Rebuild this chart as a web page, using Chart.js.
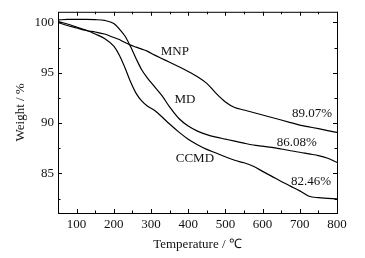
<!DOCTYPE html>
<html>
<head>
<meta charset="utf-8">
<script src="https://cdn.jsdelivr.net/npm/chart.js@4/dist/chart.umd.min.js"></script>
<style>
  html, body { margin: 0; padding: 0; background: #fff; }
  #wrap { width: 365px; height: 258px; }
</style>
</head>
<body>
<div id="wrap"><canvas id="tgaChart" width="365" height="258"></canvas></div>
<script>
// Data
const temps = [50, 75, 100, 125, 150, 175, 200, 215, 230, 245, 260, 275, 290, 310, 330, 350, 375,
  400, 425, 450, 475, 500, 525, 550, 575, 600, 625, 650, 675, 700, 725, 750, 775, 800];
const mnp = [100.0, 99.7, 99.45, 99.2, 99.05, 98.85, 98.5, 98.3, 98.0, 97.75, 97.55, 97.35, 97.15,
  96.75, 96.4, 96.05, 95.6, 95.13, 94.6, 93.95, 92.95, 92.1, 91.55, 91.3, 91.05, 90.8, 90.55, 90.3,
  90.05, 89.8, 89.62, 89.44, 89.25, 89.07];
const md = [100.25, 100.3, 100.3, 100.3, 100.28, 100.2, 99.9, 99.35, 98.65, 97.6, 96.4, 95.3, 94.5,
  93.6, 92.7, 91.6, 90.45, 89.7, 89.2, 88.85, 88.6, 88.4, 88.2, 88.0, 87.82, 87.7, 87.58, 87.42,
  87.25, 87.1, 86.93, 86.77, 86.5, 86.08];
const ccmd = [100.1, 99.85, 99.55, 99.25, 98.85, 98.4, 97.65, 96.75, 95.5, 94.1, 92.95, 92.2, 91.7,
  91.25, 90.6, 89.9, 89.1, 88.4, 87.85, 87.38, 87.02, 86.65, 86.3, 86.05, 85.7, 85.2, 84.7, 84.2,
  83.73, 83.26, 82.72, 82.58, 82.52, 82.46];

const xTicks = [100, 200, 300, 400, 500, 600, 700, 800];
const xMinor = [150, 250, 350, 450, 550, 650, 750];
const yTicks = [85, 90, 95, 100];
const yMinor = [82.5, 87.5, 92.5, 97.5];

// Text labels placed in data units
const notes = [
  { text: 'MNP', x: 364, y: 97.1 },
  { text: 'MD', x: 391, y: 92.3 },
  { text: 'CCMD', x: 418, y: 86.45 },
  { text: '89.07%', x: 733, y: 90.96 },
  { text: '86.08%', x: 692, y: 88.08 },
  { text: '82.46%', x: 730, y: 84.23 },
];

const FONT = "'Liberation Serif', 'Times New Roman', serif";
const INK = '#111';

function series(vals) {
  return temps.map((t, i) => ({ x: t, y: vals[i] }));
}

function lineSet(label, vals) {
  return {
    label,
    data: series(vals),
    borderColor: '#000',
    borderWidth: 1.2,
    pointRadius: 0,
    fill: false,
    cubicInterpolationMode: 'monotone',
  };
}

// Frame, inward ticks on all sides, and curve labels
const framePlugin = {
  id: 'frame',
  afterDatasetsDraw(chart) {
    const { ctx, chartArea: a, scales: { x, y } } = chart;
    ctx.save();
    ctx.strokeStyle = '#000';
    ctx.lineWidth = 1;
    ctx.strokeRect(a.left + 0.5, a.top + 0.5, a.right - a.left, a.bottom - a.top);

    const tick = (px, len, vertical) => {
      ctx.beginPath();
      if (vertical) {
        ctx.moveTo(Math.round(px) + 0.5, a.bottom); ctx.lineTo(Math.round(px) + 0.5, a.bottom - len);
        ctx.moveTo(Math.round(px) + 0.5, a.top); ctx.lineTo(Math.round(px) + 0.5, a.top + len);
      } else {
        ctx.moveTo(a.left, Math.round(px) + 0.5); ctx.lineTo(a.left + len, Math.round(px) + 0.5);
        ctx.moveTo(a.right, Math.round(px) + 0.5); ctx.lineTo(a.right - len, Math.round(px) + 0.5);
      }
      ctx.stroke();
    };
    xTicks.forEach(v => tick(x.getPixelForValue(v), 4, true));
    xMinor.forEach(v => tick(x.getPixelForValue(v), 2.5, true));
    yTicks.forEach(v => tick(y.getPixelForValue(v), 4, false));
    yMinor.forEach(v => tick(y.getPixelForValue(v), 2.5, false));

    ctx.fillStyle = INK;
    ctx.font = `13px ${FONT}`;
    ctx.textAlign = 'center';
    ctx.textBaseline = 'middle';
    notes.forEach(n => ctx.fillText(n.text, x.getPixelForValue(n.x), y.getPixelForValue(n.y)));
    ctx.restore();
  },
};

new Chart(document.getElementById('tgaChart'), {
  type: 'line',
  data: {
    datasets: [lineSet('MNP', mnp), lineSet('MD', md), lineSet('CCMD', ccmd)],
  },
  plugins: [framePlugin],
  options: {
    responsive: false,
    animation: false,
    layout: { padding: { left: 0, right: 28, top: 5, bottom: 0 } },
    plugins: { legend: { display: false }, tooltip: { enabled: false } },
    scales: {
      x: {
        type: 'linear',
        min: 50,
        max: 800,
        afterBuildTicks: (s) => { s.ticks = xTicks.map(v => ({ value: v })); },
        afterFit: (s) => { s.height = 45; },
        grid: { display: false, drawTicks: false },
        border: { display: false },
        ticks: { color: INK, padding: 4, maxRotation: 0, font: { family: FONT, size: 13 } },
        title: {
          display: true,
          text: 'Temperature / ℃',
          color: INK,
          font: { family: FONT, size: 13 },
          padding: { top: 0, bottom: 6 },
        },
      },
      y: {
        type: 'linear',
        min: 81.06,
        max: 101.06,
        afterBuildTicks: (s) => { s.ticks = yTicks.map(v => ({ value: v })); },
        afterFit: (s) => { s.width = 58; },
        grid: { display: false, drawTicks: false },
        border: { display: false },
        ticks: { color: INK, padding: 4, font: { family: FONT, size: 13 } },
        title: {
          display: true,
          text: 'Weight / %',
          color: INK,
          font: { family: FONT, size: 13 },
          padding: { top: 13, bottom: 0 },
        },
      },
    },
  },
});
</script>
</body>
</html>
